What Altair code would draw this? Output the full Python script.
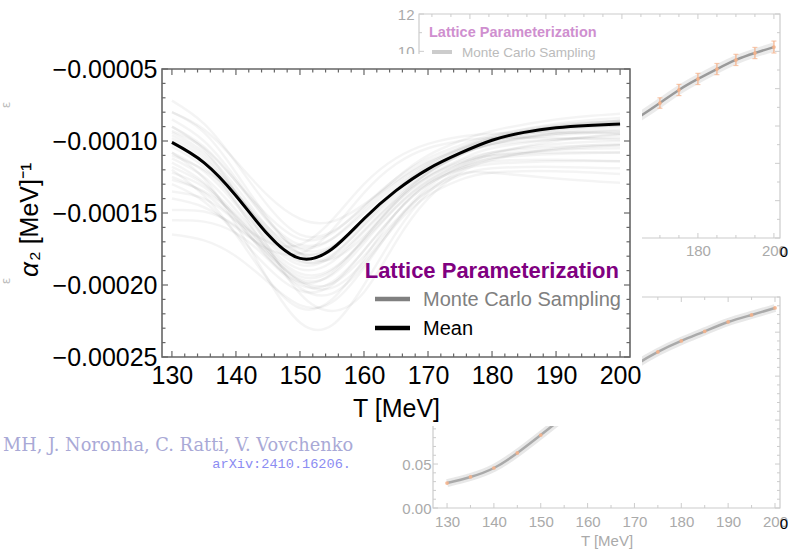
import altair as alt
import pandas as pd

FONT = "Liberation Sans"
W, H = 790, 558

# ---------------- main panel: alpha_2 samples (units of 1e-5 MeV^-1) ----------------
T_GRID = [130, 135, 140, 145, 150, 155, 160, 165, 170, 175, 180, 190, 200]
S01 = [-7.2, -8.8, -11.5, -14.5, -16.5, -16.3, -14.6, -12.6, -11.0, -10.0, -9.3, -8.5, -8.1]
S02 = [-8.5, -10.0, -12.6, -15.5, -17.2, -16.8, -15.0, -13.1, -11.6, -10.5, -9.7, -8.8, -8.4]
S03 = [-9.0, -10.4, -12.8, -15.6, -17.5, -17.3, -15.5, -13.4, -11.8, -10.7, -9.9, -9.1, -8.7]
S04 = [-9.4, -10.8, -13.2, -16.0, -17.8, -17.4, -15.4, -13.3, -11.7, -10.6, -9.8, -9.0, -8.6]
S05 = [-9.8, -11.2, -13.6, -16.3, -18.0, -17.6, -15.6, -13.5, -11.9, -10.8, -10.0, -9.2, -8.9]
S06 = [-10.4, -11.8, -14.2, -16.8, -18.4, -17.9, -15.9, -13.8, -12.2, -11.0, -10.2, -9.5, -9.2]
S07 = [-10.8, -12.1, -14.4, -17.0, -18.6, -18.0, -15.8, -13.6, -12.0, -10.9, -10.2, -9.6, -9.4]
S08 = [-11.2, -12.5, -14.8, -17.3, -18.9, -18.4, -16.3, -14.1, -12.4, -11.3, -10.5, -9.9, -9.6]
S09 = [-11.8, -13.0, -15.1, -17.5, -19.2, -18.9, -16.9, -14.6, -12.8, -11.6, -10.8, -10.2, -10.0]
S10 = [-12.2, -13.2, -15.3, -17.8, -19.6, -19.3, -17.1, -14.6, -12.7, -11.6, -11.0, -10.6, -10.5]
S11 = [-12.7, -13.5, -15.2, -17.6, -19.4, -19.0, -16.8, -14.3, -12.5, -11.5, -11.0, -10.8, -10.8]
S12 = [-13.5, -14.0, -15.6, -18.0, -20.0, -19.8, -17.6, -15.0, -13.0, -12.0, -11.6, -11.4, -11.4]
S13 = [-14.8, -14.9, -15.9, -17.8, -19.7, -19.9, -18.0, -15.5, -13.5, -12.4, -11.9, -11.8, -11.9]
S14 = [-16.5, -16.9, -18.0, -19.8, -21.4, -21.2, -18.8, -15.7, -13.4, -12.3, -12.2, -12.6, -12.9]
S15 = [-10.0, -11.5, -14.3, -17.6, -19.8, -20.2, -18.4, -15.6, -13.2, -11.8, -10.9, -10.0, -9.5]
S16 = [-9.0, -10.6, -13.6, -17.3, -20.6, -21.8, -20.5, -17.0, -14.0, -12.2, -11.3, -10.5, -10.2]
S17 = [-10.8, -12.6, -15.8, -19.6, -22.6, -22.8, -20.0, -16.4, -13.6, -12.0, -11.2, -10.6, -10.3]
S18 = [-12.0, -13.8, -16.5, -19.6, -21.6, -21.0, -18.2, -15.0, -12.9, -11.8, -11.2, -10.9, -10.8]
S19 = [-8.0, -9.4, -12.2, -15.4, -17.8, -18.2, -16.6, -14.2, -12.2, -10.9, -10.0, -9.2, -8.9]
S20 = [-11.0, -12.0, -13.8, -16.2, -17.8, -17.4, -15.4, -13.4, -11.9, -10.9, -10.3, -9.9, -9.8]
S21 = [-10.2, -11.4, -13.6, -16.0, -17.4, -16.8, -14.8, -12.9, -11.5, -10.6, -10.0, -9.5, -9.3]
S22 = [-9.6, -11.0, -13.5, -16.4, -18.3, -18.1, -16.2, -14.0, -12.2, -11.0, -10.2, -9.4, -9.0]
S23 = [-13.0, -14.2, -16.4, -18.8, -20.4, -20.0, -17.6, -15.0, -13.0, -11.9, -11.4, -11.3, -11.4]
S24 = [-9.3, -10.5, -12.8, -15.2, -16.8, -16.4, -14.5, -12.6, -11.2, -10.3, -9.6, -8.9, -8.6]
S25 = [-11.5, -12.9, -15.4, -18.1, -19.8, -19.2, -16.8, -14.3, -12.5, -11.4, -10.8, -10.4, -10.3]
S26 = [-12.5, -13.6, -15.5, -17.0, -17.2, -15.5, -13.0, -11.2, -10.2, -9.7, -9.5, -9.4, -9.5]
S27 = [-14.0, -14.6, -16.0, -17.5, -17.8, -16.2, -13.6, -11.6, -10.5, -10.0, -9.8, -9.8, -9.9]
S28 = [-15.5, -15.6, -16.4, -18.2, -20.2, -20.6, -18.6, -15.8, -13.8, -12.7, -12.2, -12.1, -12.3]
S29 = [-8.0, -9.2, -11.4, -13.8, -15.4, -15.6, -14.4, -12.8, -11.4, -10.5, -9.8, -9.0, -8.6]
SAMPLES = [S01, S02, S03, S04, S05, S06, S07, S08, S09, S10, S11, S12, S13, S14, S15,
           S16, S17, S18, S19, S20, S21, S22, S23, S24, S25, S26, S27, S28, S29]

MEAN_T = [130, 135, 140, 145, 150, 155, 160, 165, 170, 175, 180, 185, 190, 195, 200]
MEAN_A2 = [-10.1, -11.5, -13.8, -16.5, -18.15, -17.5, -15.4, -13.45, -11.95, -10.85,
           -9.95, -9.4, -9.08, -8.92, -8.82]

MAIN_XTICKS = [130, 140, 150, 160, 170, 180, 190, 200]
MAIN_YTICKS = [-0.00025, -0.00020, -0.00015, -0.00010, -0.00005]

# ---------------- faded background panel (top right) ----------------
TOP_T = [160, 165, 170, 175, 180, 185, 190, 195, 200]
TOP_V = [5.9, 6.55, 7.23, 7.93, 8.52, 9.05, 9.54, 9.91, 10.23]
TOP_ERR_T = [170, 175, 180, 185, 190, 195, 200]
TOP_ERR_V = [7.23, 7.93, 8.52, 9.05, 9.54, 9.91, 10.23]
TOP_ERR = [0.28, 0.30, 0.30, 0.30, 0.30, 0.30, 0.32]
TOP_XLABELS = [180, 200]
TOP_YLABELS = [10, 12]

# ---------------- faded background panel (bottom right) ----------------
BOT_T = [130, 135, 140, 145, 150, 155, 160, 165, 170, 175, 180, 185, 190, 195, 200]
BOT_V = [0.0284, 0.0353, 0.0455, 0.0626, 0.083, 0.104, 0.125, 0.144, 0.162, 0.1775,
         0.190, 0.201, 0.2116, 0.2196, 0.2275]
BOT_XLABELS = [130, 140, 150, 160, 170, 180, 190, 200]
BOT_YLABELS = [0, 0.05]

LEGEND_TITLE = "Lattice Parameterization"
LEGEND_LABELS = ["Monte Carlo Sampling", "Mean"]
LEGEND_COLORS = ["#808080", "#000000"]
Y_TITLE_SYMBOL = "α"
Y_TITLE_REST = "₂ [MeV]⁻¹"
AUTHORS = "MH, J. Noronha, C. Ratti, V. Vovchenko"
ARXIV = "arXiv:2410.16206."


def one(**kw):
    return pd.DataFrame({k: [v] for k, v in kw.items()})


def frame_ticks(xd, yd, xr, yr, xt, yt, xmaj, ymaj, lmaj, lmin, sides):
    xu = (xd[1] - xd[0]) / abs(xr[1] - xr[0])
    yu = (yd[1] - yd[0]) / abs(yr[1] - yr[0])
    rows = []
    for t in xt:
        L = lmaj if xmaj(t) else lmin
        if "b" in sides:
            rows.append(dict(x=t, x2=t, y=yd[0], y2=yd[0] + L * yu))
        if "t" in sides:
            rows.append(dict(x=t, x2=t, y=yd[1], y2=yd[1] - L * yu))
    for v in yt:
        L = lmaj if ymaj(v) else lmin
        if "l" in sides:
            rows.append(dict(x=xd[0], x2=xd[0] + L * xu, y=v, y2=v))
        if "r" in sides:
            rows.append(dict(x=xd[1], x2=xd[1] - L * xu, y=v, y2=v))
    return pd.DataFrame(rows)


# ======================= main panel =======================
MXD, MXR = [128.45, 201.55], [162, 630]
MYD, MYR = [-25e-5, -5e-5], [357, 69]
MXS = alt.Scale(domain=MXD, range=MXR, nice=False, zero=False)
MYS = alt.Scale(domain=MYD, range=MYR, nice=False, zero=False)
AXM_X = alt.Axis(orient="bottom", offset=-(H - 357), values=MAIN_XTICKS, domain=False,
                 ticks=False, grid=False, labelFont=FONT, labelFontSize=25,
                 labelColor="black", labelPadding=6, labelOverlap=False,
                 title="T [MeV]", titleFont=FONT, titleFontSize=25,
                 titleFontWeight="normal", titleColor="black", titlePadding=8, zindex=2)
AXM_Y = alt.Axis(orient="left", offset=-162, values=MAIN_YTICKS, format=".5f",
                 domain=False, ticks=False, grid=False, labelFont=FONT, labelFontSize=25,
                 labelColor="black", labelPadding=5, labelOverlap=False,
                 title=None, zindex=2)

samp_df = pd.DataFrame([dict(T=t, A=v * 1e-5, sid=i)
                        for i, s in enumerate(SAMPLES) for t, v in zip(T_GRID, s)])
mean_df = pd.DataFrame({"T": MEAN_T, "A": [v * 1e-5 for v in MEAN_A2]})

mx = alt.X("T:Q", scale=MXS, axis=AXM_X)
my = alt.Y("A:Q", scale=MYS, axis=AXM_Y)

samples = alt.Chart(samp_df).mark_line(color="black", opacity=0.045, strokeWidth=2.5,
                                       interpolate="natural").encode(
    x=mx, y=my, detail="sid:N")
mean = alt.Chart(mean_df).mark_line(color="black", strokeWidth=3,
                                    interpolate="natural").encode(x=mx, y=my)

mframe = alt.Chart(one(x=MXD[0], x2=MXD[1], y=MYD[0], y2=MYD[1])).mark_rect(
    fillOpacity=0, stroke="#666666", strokeWidth=1.6).encode(
    x=alt.X("x:Q", scale=MXS, axis=AXM_X), x2="x2:Q",
    y=alt.Y("y:Q", scale=MYS, axis=AXM_Y), y2="y2:Q")
mt_df = frame_ticks(MXD, MYD, MXR, MYR, list(range(130, 201, 2)),
                    [k * 1e-5 for k in range(-25, -4)],
                    lambda t: t % 10 == 0, lambda v: round(v * 1e5) % 5 == 0,
                    6, 3.5, "btlr")
mticks = alt.Chart(mt_df).mark_rule(color="#666666", strokeWidth=1.2).encode(
    x=alt.X("x:Q", scale=MXS, axis=AXM_X), x2="x2:Q",
    y=alt.Y("y:Q", scale=MYS, axis=AXM_Y), y2="y2:Q")

main = alt.layer(samples, mean, mframe, mticks)

# ======================= top background panel =======================
GRAYLBL = "#aaaaaa"
TXD, TXR = [106.6, 201.6], [419, 780]
TYD, TYR = [0, 12], [238, 14]
TXS = alt.Scale(domain=TXD, range=TXR, nice=False, zero=False)
TYS = alt.Scale(domain=TYD, range=TYR, nice=False, zero=False)
AXT_X = alt.Axis(orient="bottom", offset=-(H - 238), values=TOP_XLABELS,
                 domain=False, ticks=False, grid=False, labelFont=FONT, labelFontSize=15,
                 labelColor=GRAYLBL, labelPadding=5, title=None)
AXT_Y = alt.Axis(orient="left", offset=-419, values=TOP_YLABELS,
                 domain=False, ticks=False, grid=False, labelFont=FONT, labelFontSize=15,
                 labelColor=GRAYLBL, labelPadding=5, title=None)
tx = alt.X("T:Q", scale=TXS, axis=AXT_X)
ty = alt.Y("V:Q", scale=TYS, axis=AXT_Y)
top_df = pd.DataFrame({"T": TOP_T, "V": TOP_V})
err_df = pd.DataFrame({"T": TOP_ERR_T, "V": TOP_ERR_V,
                       "lo": [v - e for v, e in zip(TOP_ERR_V, TOP_ERR)],
                       "hi": [v + e for v, e in zip(TOP_ERR_V, TOP_ERR)]})
tframe = alt.Chart(one(x=TXD[0], x2=TXD[1], y=TYD[0], y2=TYD[1])).mark_rect(
    fillOpacity=0, stroke="#cccccc", strokeWidth=1.2).encode(
    x=alt.X("x:Q", scale=TXS, axis=AXT_X), x2="x2:Q",
    y=alt.Y("y:Q", scale=TYS, axis=AXT_Y), y2="y2:Q")
tt_df = frame_ticks(TXD, TYD, TXR, TYR, list(range(110, 201, 5)), list(range(0, 13)),
                    lambda t: t % 20 == 0, lambda v: v % 2 == 0, 5, 3, "btlr")
tticks = alt.Chart(tt_df).mark_rule(color="#cccccc", strokeWidth=1).encode(
    x=alt.X("x:Q", scale=TXS, axis=AXT_X), x2="x2:Q",
    y=alt.Y("y:Q", scale=TYS, axis=AXT_Y), y2="y2:Q")
tband = alt.Chart(top_df).mark_line(color="#dddddd", strokeWidth=9, opacity=0.6,
                                    interpolate="natural").encode(x=tx, y=ty)
tline = alt.Chart(top_df).mark_line(color="#9a9a9a", strokeWidth=2.5,
                                    interpolate="natural").encode(x=tx, y=ty)
terr = alt.Chart(err_df).mark_rule(color="#f4b28c", strokeWidth=1.2).encode(
    x=tx, y=alt.Y("lo:Q", scale=TYS, axis=AXT_Y), y2="hi:Q")
tcap_lo = alt.Chart(err_df).mark_tick(color="#f4b28c", orient="horizontal", size=5,
                                      thickness=1.2).encode(
    x=tx, y=alt.Y("lo:Q", scale=TYS, axis=AXT_Y))
tcap_hi = alt.Chart(err_df).mark_tick(color="#f4b28c", orient="horizontal", size=5,
                                      thickness=1.2).encode(
    x=tx, y=alt.Y("hi:Q", scale=TYS, axis=AXT_Y))
tpts = alt.Chart(err_df).mark_circle(color="#f4b28c", size=14, opacity=0.9).encode(
    x=tx, y=ty)
top = alt.layer(tframe, tticks, tband, tline, terr, tcap_lo, tcap_hi, tpts)

# ======================= bottom background panel =======================
BXD, BXR = [127.0, 201.07], [433, 780]
BYD, BYR = [0, 0.24], [508, 297]
BXS = alt.Scale(domain=BXD, range=BXR, nice=False, zero=False)
BYS = alt.Scale(domain=BYD, range=BYR, nice=False, zero=False)
AXB_X = alt.Axis(orient="bottom", offset=-(H - 508), values=BOT_XLABELS,
                 domain=False, ticks=False, grid=False, labelFont=FONT, labelFontSize=15,
                 labelColor=GRAYLBL, labelPadding=6, labelOverlap=False,
                 title="T [MeV]", titleFont=FONT, titleFontSize=15,
                 titleFontWeight="normal", titleColor=GRAYLBL, titlePadding=4)
AXB_Y = alt.Axis(orient="left", offset=-433, values=BOT_YLABELS,
                 format=".2f", domain=False, ticks=False, grid=False, labelFont=FONT,
                 labelFontSize=15, labelColor=GRAYLBL, labelPadding=2, title=None)
bx = alt.X("T:Q", scale=BXS, axis=AXB_X)
by = alt.Y("V:Q", scale=BYS, axis=AXB_Y)
bot_df = pd.DataFrame({"T": BOT_T, "V": BOT_V})
bframe = alt.Chart(one(x=BXD[0], x2=BXD[1], y=BYD[0], y2=BYD[1])).mark_rect(
    fillOpacity=0, stroke="#cccccc", strokeWidth=1.2).encode(
    x=alt.X("x:Q", scale=BXS, axis=AXB_X), x2="x2:Q",
    y=alt.Y("y:Q", scale=BYS, axis=AXB_Y), y2="y2:Q")
bt_df = frame_ticks(BXD, BYD, BXR, BYR, list(range(130, 201, 5)),
                    [k / 100 for k in range(0, 25)],
                    lambda t: t % 10 == 0, lambda v: round(v * 100) % 5 == 0, 5, 3, "btlr")
bticks = alt.Chart(bt_df).mark_rule(color="#cccccc", strokeWidth=1).encode(
    x=alt.X("x:Q", scale=BXS, axis=AXB_X), x2="x2:Q",
    y=alt.Y("y:Q", scale=BYS, axis=AXB_Y), y2="y2:Q")
bband = alt.Chart(bot_df).mark_line(color="#d8d8d8", strokeWidth=8, opacity=0.6,
                                    interpolate="natural").encode(x=bx, y=by)
bline = alt.Chart(bot_df).mark_line(color="#aaaaaa", strokeWidth=2.5,
                                    interpolate="natural").encode(x=bx, y=by)
bpts = alt.Chart(bot_df).mark_circle(color="#f4b28c", size=14, opacity=0.9).encode(
    x=bx, y=by)
bottom = alt.layer(bframe, bticks, bband, bline, bpts)

# ======================= occluder (main figure background) =======================
occluder = alt.Chart(one(a=1)).mark_rect(color="white").encode(
    x=alt.value(12), x2=alt.value(642), y=alt.value(54), y2=alt.value(426))

# ======================= texts =======================
def txt(s, x, y, **kw):
    return alt.Chart(one(s=s)).mark_text(**kw).encode(
        text="s:N", x=alt.value(x), y=alt.value(y))


notes = alt.layer(
    # faded legend of top background panel
    txt(LEGEND_TITLE, 429, 33, align="left", baseline="middle", font=FONT, fontSize=14.5,
        fontWeight="bold", color="#cf8fcf"),
    alt.Chart(one(a=1)).mark_rule(color="#cccccc", strokeWidth=4).encode(
        x=alt.value(432), x2=alt.value(452), y=alt.value(52)),
    txt(LEGEND_LABELS[0], 462, 53, align="left", baseline="middle", font=FONT,
        fontSize=13.5, color="#bbbbbb"),
    # faded tick-label fragments
    txt("0", 784, 252, align="center", baseline="middle", font=FONT, fontSize=15,
        color="black"),
    txt("0", 784, 524, align="center", baseline="middle", font=FONT, fontSize=15,
        color="black"),
    txt("ε", 6, 105, align="center", baseline="middle", font="DejaVu Sans", fontSize=12,
        color="#bbbbbb", angle=270),
    txt("ε", 6, 281, align="center", baseline="middle", font="DejaVu Sans", fontSize=12,
        color="#bbbbbb", angle=270),
    # main y-axis title (italic symbol + upright rest), rotated
    txt(Y_TITLE_SYMBOL, 38, 277, align="left", baseline="alphabetic", font=FONT,
        fontSize=26, fontStyle="italic", color="black", angle=270),
    txt(Y_TITLE_REST, 38, 261, align="left", baseline="alphabetic", font=FONT,
        fontSize=25, color="black", angle=270),
    # main legend
    txt(LEGEND_TITLE, 619, 271, align="right", baseline="middle", font=FONT, fontSize=22,
        fontWeight="bold", color="#800080"),
    alt.Chart(one(a=1)).mark_rule(color=LEGEND_COLORS[0], strokeWidth=4.5).encode(
        x=alt.value(375), x2=alt.value(410), y=alt.value(299)),
    alt.Chart(one(a=1)).mark_rule(color=LEGEND_COLORS[1], strokeWidth=4.5).encode(
        x=alt.value(375), x2=alt.value(410), y=alt.value(328)),
    txt(LEGEND_LABELS[0], 423, 300, align="left", baseline="middle", font=FONT,
        fontSize=20, color=LEGEND_COLORS[0]),
    txt(LEGEND_LABELS[1], 423, 329, align="left", baseline="middle", font=FONT,
        fontSize=20, color=LEGEND_COLORS[1]),
    # citation
    txt(AUTHORS, 3, 446, align="left", baseline="middle", font="DejaVu Serif",
        fontSize=17.8, color="#a9a9d6"),
    txt(ARXIV, 351, 464, align="right", baseline="middle", font="Liberation Mono",
        fontSize=13.6, color="#8c8cf2"),
)

chart = alt.layer(top, bottom, occluder, main, notes).resolve_scale(
    x="independent", y="independent").properties(
    width=W, height=H, padding=0, autosize=alt.AutoSizeParams(type="none")
).configure_view(stroke="transparent")

chart.save("out.html", embed_options={"renderer": "svg", "actions": False})
